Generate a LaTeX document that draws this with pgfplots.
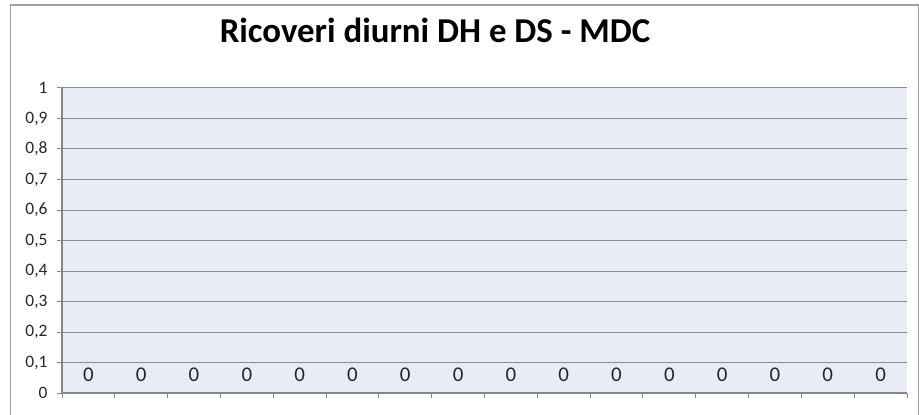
\documentclass[border=0pt]{standalone}
\usepackage{pgfplots}
\pgfplotsset{compat=1.18}
\usepackage{fontspec}
\setmainfont{Carlito}
\definecolor{plotbg}{RGB}{232,236,244}
\definecolor{gridc}{RGB}{140,140,140}
\definecolor{axisc}{RGB}{134,134,134}
\definecolor{framec}{RGB}{160,160,160}
\begin{document}
\begin{tikzpicture}[x=1bp,y=1bp]
\path[use as bounding box] (0,0) rectangle (919,414);
\draw[color=framec, line width=1.2bp] (10.5,-10) rectangle (918.4,409);
\node[anchor=base, font=\bfseries\fontsize{35}{40}\selectfont] at (435,372) {Ricoveri diurni DH e DS - MDC};
\begin{axis}[
  at={(62bp,21bp)}, anchor=south west,
  scale only axis, width=845bp, height=305bp,
  xmin=0, xmax=16, ymin=0, ymax=1,
  axis lines*=left,
  axis line style={color=axisc, line width=1.4bp},
  axis background/.style={fill=plotbg},
  xtick={0,1,2,3,4,5,6,7,8,9,10,11,12,13,14,15,16},
  xticklabels={},
  ytick={0,0.1,0.2,0.3,0.4,0.5,0.6,0.7,0.8,0.9,1},
  tick align=outside,
  major tick length=5bp,
  tick style={color=axisc, line width=1bp},
  ymajorgrids,
  major grid style={color=gridc, line width=1bp},
  /pgf/number format/.cd, use comma, assume math mode=true,
  /pgfplots/.cd,
  yticklabel style={font=\fontsize{17.5}{20}\selectfont, text=black!85, xshift=-6bp},
  every node near coord/.append style={font=\fontsize{21}{23}\selectfont, text=black!85, anchor=base, yshift=12bp},
]
\addplot[draw=none, mark=none, nodes near coords] coordinates {
(0.5,0) (1.5,0) (2.5,0) (3.5,0) (4.5,0) (5.5,0) (6.5,0) (7.5,0)
(8.5,0) (9.5,0) (10.5,0) (11.5,0) (12.5,0) (13.5,0) (14.5,0) (15.5,0)
};
\end{axis}
\end{tikzpicture}
\end{document}
